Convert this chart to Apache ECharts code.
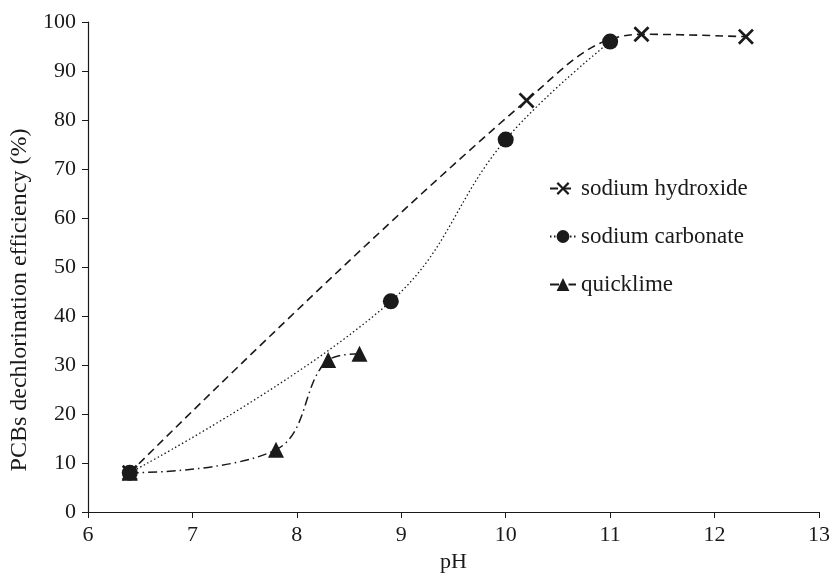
<!DOCTYPE html>
<html>
<head>
<meta charset="utf-8">
<script src="https://cdn.jsdelivr.net/npm/echarts@6/dist/echarts.min.js"></script>
<style>
  html, body { margin: 0; padding: 0; background: #fff; }
  #chart { width: 830px; height: 575px; }
</style>
</head>
<body>
<div id="chart"></div>
<script>
// values
var hydroxidePH  = [6.4, 10.2, 11.3, 12.3];
var hydroxideEff = [8, 84, 97.5, 97];
var carbonatePH  = [6.4, 8.9, 10, 11];
var carbonateEff = [8, 43, 76, 96];
var limePH  = [6.4, 7.8, 8.3, 8.6];
var limeEff = [8, 12.7, 31, 32.3];

var crossPath = 'path://M0,1.2L1.2,0L5,3.8L8.8,0L10,1.2L6.2,5L10,8.8L8.8,10L5,6.2L1.2,10L0,8.8L3.8,5Z';
var ink = '#1a1a1a';
var font = '"Liberation Serif", "DejaVu Serif", serif';

function pairs(xs, ys) {
  return xs.map(function(x, i) { return [x, ys[i]]; });
}

var chart = echarts.init(document.getElementById('chart'));
chart.setOption({
  animation: false,
  textStyle: { fontFamily: font, color: ink },
  grid: { left: 88, right: 11, top: 22, bottom: 63, containLabel: false, outerBoundsMode: 'none' },
  legend: {
    orient: 'vertical',
    left: 544,
    top: 172,
    itemGap: 25,
    itemWidth: 26,
    itemHeight: 16,
    textStyle: { fontFamily: font, fontSize: 23, color: ink },
    data: ['sodium hydroxide', 'sodium carbonate', 'quicklime']
  },
  xAxis: {
    type: 'value',
    min: 6, max: 13, interval: 1,
    name: 'pH',
    nameLocation: 'middle',
    nameGap: 36,
    nameTextStyle: { fontFamily: font, fontSize: 22, color: ink },
    splitLine: { show: false },
    axisLine: { lineStyle: { color: ink, width: 1.2 } },
    axisTick: { show: true, inside: false, length: 6, lineStyle: { color: ink } },
    axisLabel: { fontFamily: font, fontSize: 22, color: ink, margin: 12 }
  },
  yAxis: {
    type: 'value',
    min: 0, max: 100, interval: 10,
    name: 'PCBs dechlorination efficiency (%)',
    nameLocation: 'middle',
    nameGap: 55,
    nameTextStyle: { fontFamily: font, fontSize: 24, color: ink, padding: [0, 66, 0, 0] },
    splitLine: { show: false },
    axisLine: { show: true, lineStyle: { color: ink, width: 1.2 } },
    axisTick: { show: true, inside: false, length: 6, lineStyle: { color: ink } },
    axisLabel: { fontFamily: font, fontSize: 22, color: ink, margin: 12 }
  },
  series: [{
    name: 'sodium hydroxide',
    type: 'line',
    smooth: 0.4,
    symbol: crossPath,
    symbolSize: 16,
    data: pairs(hydroxidePH, hydroxideEff),
    itemStyle: { color: ink },
    lineStyle: { color: ink, width: 1.6, type: [8, 5] }
  }, {
    name: 'sodium carbonate',
    type: 'line',
    smooth: 0.4,
    symbol: 'circle',
    symbolSize: 16,
    data: pairs(carbonatePH, carbonateEff),
    itemStyle: { color: ink },
    lineStyle: { color: ink, width: 1.3, type: [1.5, 2.5] }
  }, {
    name: 'quicklime',
    type: 'line',
    smooth: 0.4,
    symbol: 'triangle',
    symbolSize: 16,
    data: pairs(limePH, limeEff),
    itemStyle: { color: ink },
    lineStyle: { color: ink, width: 1.5, type: [9, 4, 1.5, 4] }
  }]
});
</script>
</body>
</html>
